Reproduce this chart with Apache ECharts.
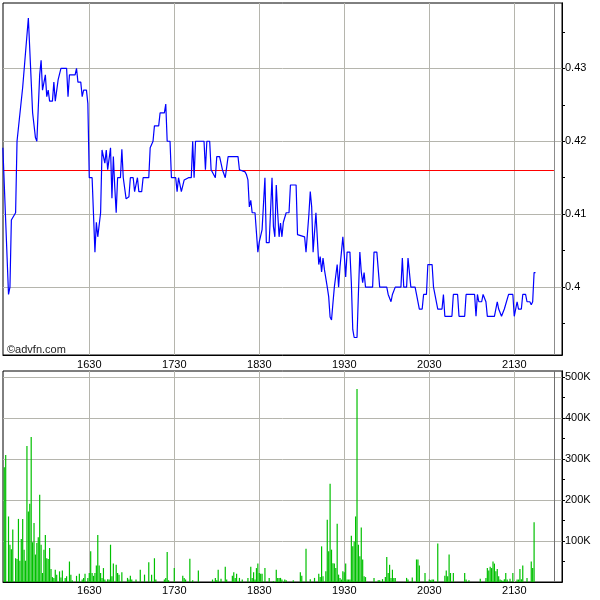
<!DOCTYPE html>
<html><head><meta charset="utf-8">
<script src="https://cdn.jsdelivr.net/npm/echarts@6/dist/echarts.min.js"></script>
<style>html,body{margin:0;padding:0;background:#fff}#c{width:600px;height:600px}</style>
</head><body><div id="c"></div>
<script>
// ---- data ----
const priceTimes = ["15:29","15:33","15:34","15:35","15:38","15:39","15:40","15:43","15:47","15:48","15:50","15:52","15:53","15:55","15:56","15:57","15:59","16:00","16:01","16:02","16:04","16:05","16:06","16:08","16:10","16:14","16:15","16:16","16:20","16:21","16:22","16:24","16:25","16:26","16:28","16:29","16:30","16:32","16:34","16:35","16:36","16:38","16:39","16:41","16:42","16:43","16:45","16:46","16:47","16:48","16:49","16:50","16:52","16:53","16:54","16:55","16:56","16:58","16:59","17:01","17:02","17:03","17:04","17:05","17:07","17:08","17:12","17:13","17:14","17:15","17:16","17:19","17:20","17:23","17:24","17:25","17:27","17:28","17:31","17:32","17:33","17:34","17:35","17:37","17:38","17:40","17:42","17:43","17:44","17:45","17:51","17:52","17:53","17:55","17:56","17:57","17:59","18:00","18:02","18:04","18:06","18:08","18:15","18:16","18:20","18:21","18:22","18:23","18:24","18:25","18:27","18:29","18:30","18:32","18:33","18:34","18:35","18:37","18:39","18:40","18:41","18:42","18:43","18:44","18:45","18:46","18:47","18:49","18:51","18:52","18:56","18:57","19:02","19:03","19:05","19:06","19:07","19:08","19:09","19:10","19:12","19:13","19:14","19:15","19:16","19:18","19:19","19:20","19:21","19:22","19:23","19:25","19:26","19:27","19:28","19:29","19:30","19:31","19:32","19:34","19:35","19:36","19:37","19:39","19:40","19:41","19:42","19:43","19:44","19:45","19:50","19:51","19:53","19:55","20:00","20:01","20:03","20:04","20:06","20:10","20:11","20:12","20:14","20:15","20:16","20:17","20:20","20:21","20:23","20:25","20:26","20:28","20:29","20:32","20:33","20:34","20:36","20:39","20:40","20:41","20:46","20:47","20:50","20:51","20:55","20:56","21:02","21:03","21:04","21:05","21:07","21:08","21:10","21:11","21:16","21:18","21:19","21:21","21:22","21:23","21:24","21:26","21:29","21:30","21:31","21:32","21:33","21:35","21:36","21:38","21:39","21:41","21:42","21:43","21:44","21:45"];
const prices = [0.4191,0.399,0.400,0.4092,0.4102,0.420,0.420,0.4274,0.4369,0.437,0.4239,0.4205,0.420,0.4291,0.4311,0.427,0.4291,0.4261,0.427,0.4255,0.4255,0.4281,0.4255,0.4284,0.430,0.430,0.4261,0.4291,0.4291,0.430,0.4281,0.4281,0.4261,0.427,0.427,0.4252,0.415,0.415,0.4048,0.4089,0.4069,0.4102,0.4188,0.417,0.4188,0.4161,0.4191,0.4122,0.4179,0.4137,0.4102,0.415,0.415,0.4189,0.415,0.415,0.4121,0.4124,0.415,0.415,0.4131,0.4131,0.415,0.4131,0.4131,0.415,0.415,0.4191,0.4192,0.420,0.4221,0.4221,0.4239,0.4239,0.4251,0.420,0.420,0.415,0.415,0.4131,0.415,0.415,0.4131,0.4147,0.4147,0.415,0.415,0.420,0.415,0.420,0.420,0.4161,0.420,0.420,0.4161,0.4161,0.415,0.4179,0.4179,0.4161,0.415,0.4179,0.4179,0.4161,0.4158,0.4154,0.4147,0.411,0.4119,0.4102,0.4102,0.4048,0.4062,0.4079,0.4079,0.415,0.4061,0.4061,0.415,0.4083,0.4069,0.414,0.4102,0.4069,0.4088,0.4069,0.4089,0.4102,0.4102,0.414,0.414,0.4072,0.4069,0.4048,0.4099,0.4131,0.411,0.4048,0.4048,0.4102,0.4031,0.4042,0.4021,0.404,0.4024,0.400,0.3987,0.3959,0.3955,0.3978,0.400,0.4031,0.400,0.4028,0.4048,0.4069,0.4044,0.4014,0.4048,0.4048,0.4006,0.3942,0.3931,0.3931,0.3992,0.4048,0.4021,0.4006,0.402,0.400,0.400,0.4048,0.4048,0.400,0.400,0.399,0.398,0.399,0.400,0.400,0.404,0.400,0.400,0.404,0.404,0.400,0.400,0.399,0.397,0.397,0.399,0.399,0.4031,0.4031,0.400,0.400,0.397,0.397,0.399,0.396,0.396,0.399,0.399,0.396,0.396,0.399,0.399,0.396,0.399,0.398,0.398,0.399,0.398,0.396,0.396,0.398,0.397,0.396,0.396,0.397,0.397,0.399,0.399,0.396,0.396,0.398,0.397,0.397,0.399,0.399,0.398,0.398,0.3976,0.398,0.402,0.402];
const volTimes = ["15:30","15:31","15:33","15:34","15:35","15:36","15:38","15:39","15:40","15:41","15:42","15:43","15:44","15:45","15:46","15:47","15:48","15:49","15:50","15:51","15:52","15:53","15:54","15:55","15:56","15:57","15:58","15:59","16:00","16:01","16:02","16:03","16:04","16:05","16:06","16:07","16:09","16:10","16:11","16:13","16:14","16:16","16:17","16:18","16:21","16:23","16:25","16:26","16:27","16:29","16:30","16:31","16:32","16:33","16:34","16:35","16:36","16:37","16:38","16:39","16:40","16:41","16:43","16:44","16:45","16:46","16:47","16:49","16:50","16:51","16:53","16:57","16:58","16:59","17:00","17:03","17:06","17:09","17:12","17:14","17:16","17:17","17:23","17:24","17:25","17:26","17:30","17:36","17:37","17:38","17:41","17:43","17:47","17:57","17:59","18:00","18:01","18:03","18:06","18:07","18:11","18:12","18:13","18:14","18:16","18:18","18:22","18:24","18:25","18:26","18:27","18:28","18:29","18:30","18:31","18:32","18:34","18:37","18:40","18:42","18:43","18:44","18:45","18:46","18:48","18:49","18:54","18:59","19:00","19:03","19:06","19:09","19:12","19:13","19:14","19:15","19:17","19:18","19:19","19:20","19:21","19:22","19:23","19:24","19:25","19:26","19:27","19:28","19:29","19:30","19:31","19:32","19:33","19:34","19:35","19:36","19:37","19:38","19:39","19:40","19:41","19:42","19:43","19:44","19:45","19:51","19:54","19:55","19:57","19:59","20:00","20:01","20:02","20:03","20:04","20:05","20:06","20:14","20:15","20:18","20:21","20:22","20:23","20:27","20:30","20:31","20:32","20:33","20:36","20:41","20:42","20:43","20:44","20:45","20:47","20:55","20:56","20:58","21:06","21:10","21:11","21:12","21:13","21:14","21:15","21:16","21:17","21:18","21:19","21:20","21:21","21:22","21:23","21:24","21:25","21:27","21:29","21:32","21:33","21:34","21:35","21:36","21:39","21:42","21:43","21:44"];
const volK = [280,310,160,91,80,128,58,56,154,52,105,154,79,52,332,172,191,354,97,144,67,95,109,213,91,22,79,115,58,56,83,32,12,10,30,18,26,11,28,10,14,50,18,4,15,20,6,10,20,10,22,75,22,15,22,40,115,40,22,10,34,6,7,6,91,14,45,42,22,18,24,10,6,15,6,6,30,18,48,18,58,6,6,10,73,4,34,15,10,6,57,4,28,6,10,4,30,8,37,6,15,24,10,20,10,6,10,37,10,24,6,34,45,22,20,20,34,10,2,30,10,10,10,6,6,4,4,24,15,81,7,10,20,12,87,14,26,152,75,240,79,46,45,34,142,18,10,6,26,24,45,6,6,6,113,87,99,160,471,91,63,133,55,14,12,10,4,4,7,12,61,22,42,10,30,10,10,10,6,11,55,55,40,22,6,4,6,6,94,15,28,14,67,22,22,22,6,4,8,10,34,28,37,34,50,45,26,32,14,6,4,3,7,22,6,8,22,6,6,32,7,40,10,50,34,146];
const prevClose = 0.416;
const hourTicks = ["16:30","17:30","18:30","19:30","20:30","21:30"];
const sessionEnd = "21:58";
const viewStart = "15:29", viewEnd = "22:04";
const priceMin = 0.3907, priceMax = 0.43895;
const priceLabels = [0.40, 0.41, 0.42, 0.43];
const priceMinorTicks = [0.395, 0.405, 0.415, 0.425, 0.435];
const volMaxK = 515;
const volLabels = [100, 200, 300, 400, 500];
const volMinorTicks = [50, 150, 250, 350, 450];

function toMin(s){ const p = s.split(':').map(Number); return p[0]*60 + p[1]; }
const priceData = priceTimes.map((t,i) => [toMin(t), prices[i]]);
const volData = volTimes.map((t,i) => [toMin(t), volK[i]]);
const hourVals = hourTicks.map(toMin);
const xMin = toMin(viewStart) + 0.1, xMax = toMin(viewEnd) - 0.3;
const endMin = toMin(sessionEnd);

const FONT = 'Liberation Sans, Arial, sans-serif';
const gridColor = '#b5b5ad';
const hhmm = v => String(Math.floor(v/60)*100 + Math.round(v%60));

function xAxisCfg(gi){
  return {
    type: 'value', gridIndex: gi, min: xMin, max: xMax,
    axisLine: {show: true, lineStyle: {color: '#000', width: 1}},
    axisTick: {show: false, customValues: hourVals},
    axisLabel: {customValues: hourVals, formatter: hhmm, color: '#000', fontFamily: FONT, fontSize: 11, margin: gi===0 ? 4 : 3},
    splitLine: {show: true, lineStyle: {color: gridColor, width: 1}}
  };
}
function yMain(gi, min, max, labels, fmt){
  return {type: 'value', gridIndex: gi, position: 'right', min: min, max: max,
    axisLine: {show: true, lineStyle: {color: '#000'}},
    axisTick: {show: true, inside: false, length: 3, customValues: labels, lineStyle: {color: '#000'}},
    axisLabel: {customValues: labels, formatter: fmt, color: '#000', fontFamily: FONT, fontSize: 11, margin: 3},
    splitLine: {show: true, lineStyle: {color: gridColor, width: 1}}};
}
function yMinor(gi, min, max, ticks){
  return {type: 'value', gridIndex: gi, position: 'right', min: min, max: max,
    axisLine: {show: true, lineStyle: {color: '#000'}},
    axisTick: {show: true, inside: false, length: 3, customValues: ticks, lineStyle: {color: '#000'}},
    axisLabel: {show: false}, splitLine: {show: false}};
}

const chart = echarts.init(document.getElementById('c'), null, {renderer: 'canvas'});
chart.setOption({
  animation: false,
  backgroundColor: '#fff',
  grid: [
    {left: 3, right: 38, top: 3, height: 352, show: true, borderColor: '#000', borderWidth: 1, backgroundColor: '#fff'},
    {left: 3, right: 38, top: 371, height: 211, show: true, borderColor: '#000', borderWidth: 1, backgroundColor: '#fff'}
  ],
  xAxis: [xAxisCfg(0), xAxisCfg(1)],
  yAxis: [
    yMain(0, priceMin, priceMax, priceLabels, v => String(+v.toFixed(2))),
    yMain(1, 0, volMaxK, volLabels, v => v + 'K'),
    yMinor(0, priceMin, priceMax, priceMinorTicks),
    yMinor(1, 0, volMaxK, volMinorTicks)
  ],
  series: [
    {type: 'line', xAxisIndex: 0, yAxisIndex: 0, data: priceData, symbol: 'none', z: 5,
     lineStyle: {color: '#0000ff', width: 1.2},
     markLine: {silent: true, symbol: 'none', label: {show: false}, animation: false,
       data: [
         [{coord: [xMin, prevClose], lineStyle: {color: '#ff0000', width: 1.2, type: 'solid'}}, {coord: [endMin, prevClose]}],
         {xAxis: endMin, lineStyle: {color: '#8c8c8c', width: 1, type: 'solid'}}
       ]}},
    {type: 'bar', xAxisIndex: 1, yAxisIndex: 1, data: volData, barWidth: 1.2, z: 5,
     itemStyle: {color: '#00c000'},
     markLine: {silent: true, symbol: 'none', label: {show: false}, animation: false,
       data: [{xAxis: endMin, lineStyle: {color: '#707070', width: 1, type: 'solid'}}]}}
  ],
  graphic: [
    {type: 'text', left: 7, top: 344, z: 10, style: {text: '©advfn.com', font: '11px ' + FONT, fill: '#222'}}
  ]
});
</script></body></html>
